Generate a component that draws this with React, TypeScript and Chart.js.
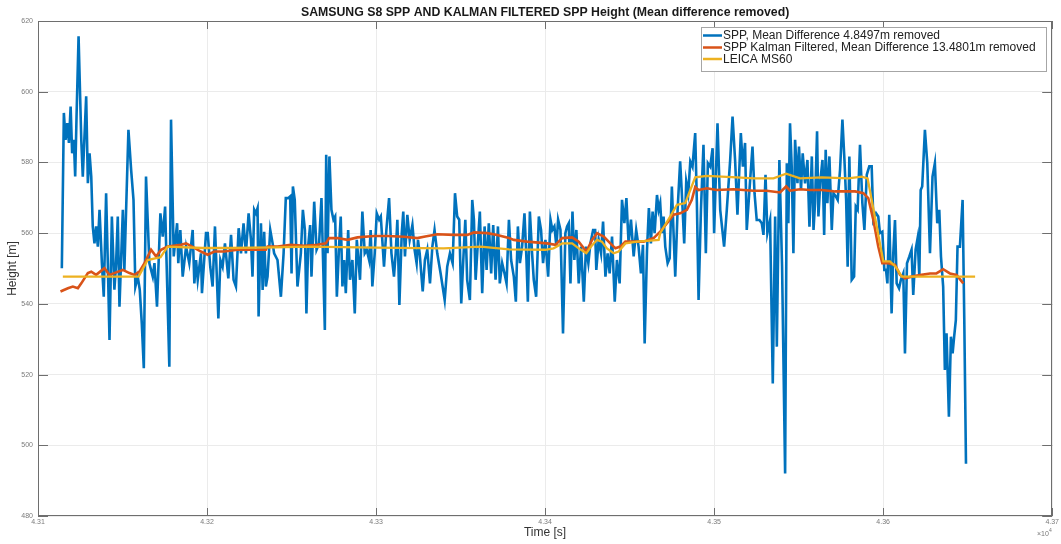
import React, { useEffect, useRef } from 'react';
import { Chart, registerables } from 'chart.js';

Chart.register(...registerables);

const TITLE = 'SAMSUNG S8 SPP AND KALMAN FILTERED SPP Height (Mean difference removed)';
const X_LABEL = 'Time [s]';
const Y_LABEL = 'Height [m]';
const LEGEND_LABELS = [
  'SPP, Mean Difference 4.8497m removed',
  'SPP Kalman Filtered, Mean Difference 13.4801m removed',
  'LEICA MS60',
];
const COLORS = ['#0072BD', '#D95319', '#EDB120'];

const TIME_ORIGIN = 43100; // seconds; values below are offsets from this
const X_MIN = 43100;
const X_MAX = 43700;
const X_STEP = 100;
const Y_MIN = 480;
const Y_MAX = 620;
const Y_STEP = 20;

const sppTime = [
  14.1, 15.3, 16.3, 17.3, 18.3, 19.3, 20.2, 21.2, 22.0, 22.8, 24.0, 25.6, 26.5, 28.5, 29.5, 30.5, 31.5, 32.4, 33.4, 34.4,
  35.4, 36.4, 37.8, 38.9, 40.3, 41.3, 42.3, 43.7, 45.2, 46.2, 47.2, 48.2, 50.2, 51.1, 53.5, 55.1, 56.5, 57.6, 59.0, 60.2,
  61.4, 62.6, 63.9, 65.9, 67.9, 68.9, 70.4, 72.4, 73.8, 75.2, 77.7, 78.7, 80.3, 82.3, 83.0, 84.2, 85.6, 87.6, 89.5, 91.5,
  92.5, 93.5, 94.5, 96.4, 97.0, 99.4, 100.4, 101.9, 103.3, 104.7, 106.7, 107.9, 109.2, 110.6, 112.6, 114.2, 115.7, 117.1, 118.7, 120.1,
  121.6, 123.0, 124.6, 126.0, 126.9, 127.9, 128.9, 129.9, 130.5, 131.9, 132.9, 133.8, 134.8, 135.8, 137.4, 138.8, 139.7, 141.7, 143.7, 145.3,
  146.6, 148.0, 149.2, 150.0, 150.8, 151.9, 153.5, 155.5, 156.7, 157.9, 158.8, 159.8, 161.0, 161.8, 163.4, 164.8, 166.3, 167.7, 169.7, 170.5,
  171.3, 172.4, 173.6, 174.8, 175.8, 176.8, 178.1, 179.1, 180.1, 181.1, 182.1, 183.5, 184.6, 186.0, 187.4, 188.6, 190.5, 191.9, 193.3, 194.5,
  195.9, 196.8, 197.8, 199.2, 200.4, 201.8, 202.8, 204.7, 206.1, 207.7, 209.1, 210.6, 211.6, 212.6, 213.8, 215.2, 216.1, 217.1, 218.5, 219.9,
  221.5, 222.8, 224.0, 224.8, 225.8, 227.6, 228.9, 230.3, 231.9, 233.3, 234.6, 236.2, 238.2, 240.6, 242.1, 243.7, 245.3, 246.7, 248.0, 249.2,
  250.4, 251.6, 252.8, 253.9, 255.5, 256.9, 257.9, 258.9, 260.2, 261.4, 262.8, 264.2, 265.4, 266.7, 268.1, 269.3, 270.7, 272.1, 273.2, 274.6,
  276.0, 277.2, 278.6, 279.9, 281.5, 282.7, 283.9, 285.1, 286.4, 287.8, 289.0, 289.8, 291.0, 292.3, 293.3, 294.7, 296.3, 297.6, 298.8, 300.2,
  301.8, 303.2, 304.3, 305.5, 306.7, 307.7, 309.1, 310.6, 312.0, 313.0, 314.0, 315.0, 316.2, 317.3, 318.5, 319.9, 321.3, 322.9, 324.2, 325.6,
  326.8, 328.4, 329.6, 330.3, 331.7, 333.1, 334.3, 335.7, 337.0, 338.2, 339.6, 341.2, 342.5, 344.1, 345.5, 346.9, 348.1, 349.4, 350.8, 352.4,
  353.9, 355.3, 356.7, 357.9, 358.9, 360.3, 361.4, 362.6, 363.6, 364.8, 366.2, 367.2, 368.1, 369.1, 370.1, 371.1, 372.5, 373.7, 375.0, 376.0,
  377.0, 378.4, 379.9, 381.1, 382.3, 383.5, 384.7, 385.9, 387.2, 388.8, 389.8, 390.8, 392.2, 393.7, 395.1, 396.3, 397.7, 399.1, 400.0, 402.0,
  403.6, 405.9, 407.5, 409.5, 410.9, 412.4, 413.8, 415.8, 417.0, 418.3, 419.3, 420.9, 422.7, 423.9, 425.2, 426.8, 428.2, 429.2, 430.4, 431.5,
  433.1, 434.7, 436.1, 437.1, 438.6, 440.2, 442.0, 443.0, 443.9, 444.9, 445.9, 446.9, 447.9, 449.3, 450.2, 451.4, 452.4, 453.8, 455.2, 456.4,
  457.8, 458.8, 459.7, 460.9, 461.7, 462.9, 464.1, 465.1, 466.0, 467.0, 468.2, 469.6, 470.6, 472.0, 473.1, 474.5, 475.9, 477.1, 478.1, 479.0,
  480.0, 481.4, 482.8, 483.8, 484.9, 486.3, 487.7, 488.9, 490.3, 491.8, 493.2, 494.2, 495.8, 497.1, 498.1, 499.5, 500.7, 501.7, 502.5, 503.6,
  505.0, 506.0, 507.0, 508.0, 509.4, 510.5, 511.9, 512.9, 514.1, 515.5, 516.8, 517.8, 519.2, 520.4, 521.4, 522.2, 523.1, 524.7, 526.1, 527.7,
  529.2, 530.6, 532.0, 533.2, 534.2, 535.5, 536.5, 537.5, 538.9, 540.1, 541.1, 542.0, 543.0, 544.0, 545.4, 547.0, 548.0, 549.0,
];

const sppHeight = [
  550.1, 594.0, 586.4, 591.1, 585.5, 595.8, 582.6, 586.4, 576.0, 593.0, 615.7, 586.4, 576.0, 598.7, 574.1, 582.6, 576.0, 561.9, 557.1, 561.9,
  556.2, 566.6, 551.5, 542.0, 571.3, 551.5, 529.8, 564.7, 544.0, 551.5, 564.7, 539.2, 566.6, 549.6, 589.2, 577.9, 569.4, 544.9, 547.7, 544.0,
  534.5, 521.8, 576.0, 551.5, 547.7, 551.5, 539.2, 565.6, 559.0, 567.5, 522.2, 592.1, 553.4, 562.8, 551.5, 560.9, 547.7, 556.2, 551.5, 560.9,
  545.8, 552.4, 546.8, 554.3, 543.0, 560.0, 560.0, 550.5, 544.9, 561.9, 535.9, 552.4, 550.5, 557.1, 547.2, 559.5, 546.8, 544.9, 561.4, 554.3,
  562.8, 554.3, 565.6, 558.1, 547.7, 566.6, 565.6, 567.1, 536.4, 562.8, 543.9, 560.4, 544.9, 547.7, 560.9, 557.1, 554.3, 552.4, 542.0, 554.3,
  569.9, 569.9, 570.4, 548.6, 573.2, 569.4, 544.9, 554.3, 566.6, 560.9, 537.3, 556.2, 562.3, 547.7, 568.9, 555.3, 557.1, 569.9, 532.6, 582.2,
  554.3, 581.7, 566.6, 563.8, 564.7, 542.0, 556.2, 564.7, 544.9, 552.4, 543.0, 560.9, 546.8, 552.4, 537.3, 558.1, 546.8, 566.1, 554.3, 555.3,
  552.4, 560.9, 544.9, 554.3, 565.6, 563.8, 564.7, 550.5, 560.9, 569.9, 554.3, 547.7, 554.3, 563.8, 539.7, 560.0, 566.1, 553.4, 565.2, 558.1,
  562.3, 555.3, 551.5, 558.1, 554.3, 543.5, 552.4, 555.3, 545.8, 556.2, 560.9, 554.3, 548.6, 541.1, 550.5, 554.3, 551.5, 571.3, 564.7, 563.8,
  540.1, 552.4, 563.8, 546.8, 541.1, 569.4, 563.8, 546.8, 557.1, 566.1, 543.0, 561.9, 549.6, 562.8, 548.6, 562.3, 546.8, 561.9, 545.8, 551.5,
  548.6, 545.8, 563.8, 552.4, 547.7, 540.6, 561.9, 551.5, 556.2, 565.6, 552.4, 540.6, 566.1, 554.3, 546.8, 542.0, 564.7, 560.9, 551.5, 558.1,
  547.7, 563.8, 560.9, 561.9, 556.2, 563.8, 560.9, 531.6, 560.0, 561.9, 562.8, 545.8, 566.1, 552.4, 560.9, 545.8, 556.2, 540.6, 556.2, 551.5,
  557.1, 560.9, 560.9, 549.6, 558.1, 554.3, 563.3, 547.7, 554.3, 548.6, 559.0, 540.6, 552.4, 545.8, 569.4, 562.8, 569.9, 557.1, 563.8, 553.4,
  560.9, 556.2, 548.6, 556.7, 528.8, 555.3, 567.1, 557.1, 566.1, 560.0, 570.8, 566.6, 568.5, 560.0, 564.7, 556.2, 551.5, 552.9, 573.2, 560.0,
  547.7, 566.6, 580.3, 569.4, 557.1, 574.6, 571.3, 580.3, 578.8, 588.3, 568.5, 541.1, 566.6, 585.0, 554.3, 579.8, 578.8, 584.0, 560.0, 591.1,
  566.6, 556.2, 566.6, 580.7, 593.0, 580.7, 565.2, 588.3, 578.8, 585.5, 560.9, 572.2, 584.5, 571.3, 563.7, 563.7, 562.8, 559.5, 576.5, 560.0,
  563.7, 517.5, 564.7, 527.9, 580.7, 550.5, 492.0, 579.8, 562.8, 591.1, 578.8, 554.3, 586.4, 574.1, 584.5, 572.2, 582.6, 574.1, 580.7, 561.8,
  581.7, 560.9, 568.5, 588.8, 564.7, 575.1, 580.7, 559.5, 583.6, 568.5, 581.7, 560.9, 571.3, 570.4, 569.4, 577.9, 592.1, 580.7, 569.4, 550.5,
  581.7, 546.8, 547.7, 567.5, 566.6, 585.0, 568.5, 560.9, 576.5, 578.9, 578.9, 563.7, 565.6, 564.7, 560.0, 560.4, 549.6, 549.6, 545.8, 565.2,
  537.3, 554.3, 563.7, 545.8, 544.4, 546.8, 548.6, 526.0, 551.5, 553.4, 555.3, 542.5, 555.3, 558.6, 547.7, 572.2, 573.2, 589.2, 579.8, 554.3,
  576.0, 579.8, 562.8, 566.6, 553.4, 544.9, 521.3, 531.7, 508.1, 530.7, 526.0, 530.7, 535.4, 556.2, 556.2, 569.4, 535.4, 494.8,
];

const kalmanTime = [
  13.3, 17.7, 20.6, 23.6, 25.6, 29.5, 31.5, 34.4, 39.3, 42.3, 46.2, 50.2, 54.1, 57.1, 60.0, 63.0, 66.9, 69.9, 72.8, 76.7,
  84.6, 87.6, 92.0, 96.4, 100.4, 104.3, 110.2, 118.1, 127.9, 134.8, 135.8, 141.7, 149.6, 157.5, 165.3, 170.3, 172.2, 177.2, 183.1, 189.0,
  198.8, 206.7, 216.5, 224.4, 228.3, 236.2, 246.1, 254.0, 257.9, 265.8, 271.7, 278.6, 281.5, 289.4, 301.2, 306.1, 310.1, 316.0, 319.9, 324.4,
  327.8, 330.7, 334.7, 338.6, 341.6, 344.5, 347.5, 358.3, 364.2, 368.1, 372.1, 376.0, 379.9, 383.9, 386.8, 388.8, 390.8, 395.7, 401.6, 411.5,
  423.3, 431.1, 439.0, 442.6, 444.9, 450.8, 456.7, 463.7, 471.6, 483.4, 488.3, 491.2, 494.2, 497.1, 499.5, 503.1, 507.0, 510.0, 512.9, 516.8,
  522.7, 527.7, 531.5, 535.5, 539.5, 543.4, 547.4,
];

const kalmanHeight = [
  543.5, 544.4, 544.9, 544.4, 545.8, 548.7, 549.1, 548.2, 550.1, 548.2, 548.9, 549.6, 548.7, 548.2, 549.1, 551.5, 555.3, 553.4, 555.3, 556.2,
  556.7, 557.1, 556.0, 554.8, 553.9, 554.8, 554.8, 555.3, 555.3, 555.3, 556.2, 556.2, 556.7, 556.4, 556.7, 557.1, 558.6, 558.6, 558.1, 558.8,
  559.2, 559.2, 559.0, 558.6, 559.0, 559.7, 559.5, 559.5, 560.2, 560.0, 559.5, 558.6, 558.1, 557.6, 557.1, 556.7, 558.6, 558.8, 557.6, 554.8,
  558.1, 560.0, 559.0, 557.1, 555.7, 556.2, 557.6, 557.6, 558.6, 560.4, 562.8, 565.2, 565.6, 566.6, 569.4, 573.0, 572.2, 572.7, 572.2, 572.4,
  572.0, 572.0, 571.5, 573.2, 572.0, 572.4, 572.2, 572.2, 571.8, 571.8, 571.3, 569.9, 563.7, 556.2, 551.5, 551.5, 551.0, 548.2, 547.2, 547.7,
  548.2, 548.6, 548.6, 549.8, 548.6, 548.2, 545.8,
];

const leicaTime = [
  14.7, 59.5, 64.9, 69.9, 72.5, 76.7, 97.4, 113.0, 140.0, 160.0, 200.0, 240.0, 262.0, 278.6, 300.0, 305.0, 310.1, 316.0, 319.9, 324.4,
  327.2, 330.7, 333.6, 336.6, 340.6, 343.5, 347.5, 354.4, 362.2, 367.2, 368.1, 374.0, 378.0, 382.9, 385.9, 388.8, 395.7, 413.4, 423.3, 435.1,
  442.6, 450.8, 463.7, 479.4, 487.3, 490.8, 493.2, 496.2, 500.1, 504.0, 507.4, 511.0, 554.4,
];

const leicaHeight = [
  547.7, 547.7, 552.4, 552.9, 553.2, 556.2, 555.8, 555.8, 556.0, 556.2, 555.9, 555.7, 556.2, 555.4, 555.3, 555.7, 557.1, 557.1, 555.7, 554.3,
  556.2, 558.1, 557.6, 555.7, 554.3, 554.8, 557.1, 557.6, 557.9, 558.1, 560.0, 564.7, 568.0, 568.5, 572.2, 575.8, 576.2, 575.8, 575.5, 575.5,
  576.8, 575.5, 575.8, 575.5, 576.0, 575.5, 569.4, 561.9, 552.0, 552.0, 550.5, 547.7, 547.7,
];

const toPoints = (times: number[], values: number[]) =>
  times.map((t, i) => ({ x: TIME_ORIGIN + t, y: values[i] }));

const FONT = '"Liberation Sans", Arial, sans-serif';

const decorPlugin = {
  id: 'decor',
  afterDraw(chart: any) {
    const { ctx, chartArea: a, scales } = chart;
    ctx.save();
    // axes box
    ctx.strokeStyle = '#6e6e6e';
    ctx.lineWidth = 1;
    ctx.strokeRect(Math.round(a.left) + 0.5, Math.round(a.top) + 0.5, Math.round(a.right - a.left) - 1, Math.round(a.bottom - a.top) - 1);
    // inward ticks
    ctx.beginPath();
    scales.x.ticks.forEach((t: any) => {
      const px = Math.round(scales.x.getPixelForValue(t.value)) + 0.5;
      ctx.moveTo(px, a.bottom);
      ctx.lineTo(px, a.bottom - 8);
      ctx.moveTo(px, a.top);
      ctx.lineTo(px, a.top + 8);
    });
    scales.y.ticks.forEach((t: any) => {
      const py = Math.round(scales.y.getPixelForValue(t.value)) + 0.5;
      ctx.moveTo(a.left, py);
      ctx.lineTo(a.left + 10, py);
      ctx.moveTo(a.right, py);
      ctx.lineTo(a.right - 10, py);
    });
    ctx.stroke();

    const cx = (a.left + a.right) / 2;
    // title
    ctx.fillStyle = '#1a1a1a';
    ctx.font = `bold 12.3px ${FONT}`;
    ctx.textAlign = 'center';
    ctx.textBaseline = 'middle';
    ctx.fillText(TITLE, cx, 13);
    // x label
    ctx.fillStyle = '#333';
    ctx.font = `12px ${FONT}`;
    ctx.fillText(X_LABEL, cx, 533);
    // y label
    ctx.save();
    ctx.translate(13, (a.top + a.bottom) / 2);
    ctx.rotate(-Math.PI / 2);
    ctx.fillText(Y_LABEL, 0, 0);
    ctx.restore();
    // exponent
    ctx.fillStyle = '#777';
    ctx.textAlign = 'left';
    ctx.font = `7px ${FONT}`;
    ctx.fillText('\u00d710', 1037, 534);
    ctx.font = `5px ${FONT}`;
    ctx.fillText('4', 1049, 531);

    // legend
    const lx = 701.5, ly = 27.5, lw = 345, lh = 44;
    ctx.fillStyle = '#ffffff';
    ctx.fillRect(lx, ly, lw, lh);
    ctx.strokeStyle = '#a6a6a6';
    ctx.strokeRect(lx, ly, lw, lh);
    const rows = [35.5, 47.5, 59];
    ctx.font = `12px ${FONT}`;
    ctx.textBaseline = 'middle';
    LEGEND_LABELS.forEach((label, i) => {
      ctx.strokeStyle = COLORS[i];
      ctx.lineWidth = 2.5;
      ctx.beginPath();
      ctx.moveTo(703, rows[i]);
      ctx.lineTo(722, rows[i]);
      ctx.stroke();
      ctx.fillStyle = '#222';
      ctx.fillText(label, 723, rows[i] + 0.5);
    });
    ctx.restore();
  },
};

export default function App() {
  const ref = useRef<HTMLCanvasElement>(null);
  useEffect(() => {
    if (!ref.current) return;
    const chart = new Chart(ref.current, {
      type: 'line',
      data: {
        datasets: [
          {
            label: LEGEND_LABELS[0],
            data: toPoints(sppTime, sppHeight),
            borderColor: COLORS[0],
            borderWidth: 2.6,
            pointRadius: 0,
            tension: 0,
            order: 3,
          },
          {
            label: LEGEND_LABELS[1],
            data: toPoints(kalmanTime, kalmanHeight),
            borderColor: COLORS[1],
            borderWidth: 2.6,
            pointRadius: 0,
            tension: 0,
            order: 2,
          },
          {
            label: LEGEND_LABELS[2],
            data: toPoints(leicaTime, leicaHeight),
            borderColor: COLORS[2],
            borderWidth: 2.3,
            pointRadius: 0,
            tension: 0,
            order: 1,
          },
        ],
      },
      options: {
        animation: false,
        responsive: false,
        devicePixelRatio: 1,
        layout: { padding: { left: 0, top: 21, right: 7, bottom: 0 } },
        plugins: {
          legend: { display: false },
          title: { display: false },
          tooltip: { enabled: false },
        },
        scales: {
          x: {
            type: 'linear',
            min: X_MIN,
            max: X_MAX,
            afterFit: (s: any) => {
              s.height = 28;
            },
            ticks: {
              stepSize: X_STEP,
              autoSkip: false,
              maxRotation: 0,
              padding: 2,
              color: '#7a7a7a',
              font: { size: 7, family: FONT },
              callback: (v: any) => (Number(v) / 10000).toFixed(2),
            },
            grid: { color: '#ebebeb', drawTicks: false },
            border: { display: false },
          },
          y: {
            type: 'linear',
            min: Y_MIN,
            max: Y_MAX,
            afterFit: (s: any) => {
              s.width = 38;
            },
            ticks: {
              stepSize: Y_STEP,
              padding: 5,
              color: '#7a7a7a',
              font: { size: 7, family: FONT },
            },
            grid: { color: '#ebebeb', drawTicks: false },
            border: { display: false },
          },
        },
      },
      plugins: [decorPlugin],
    } as any);
    return () => chart.destroy();
  }, []);
  return (
    <div style={{ position: 'fixed', left: 0, top: 0, width: 1061, height: 544, background: '#fff' }}>
      <canvas ref={ref} width={1061} height={544} style={{ display: 'block' }} />
    </div>
  );
}
